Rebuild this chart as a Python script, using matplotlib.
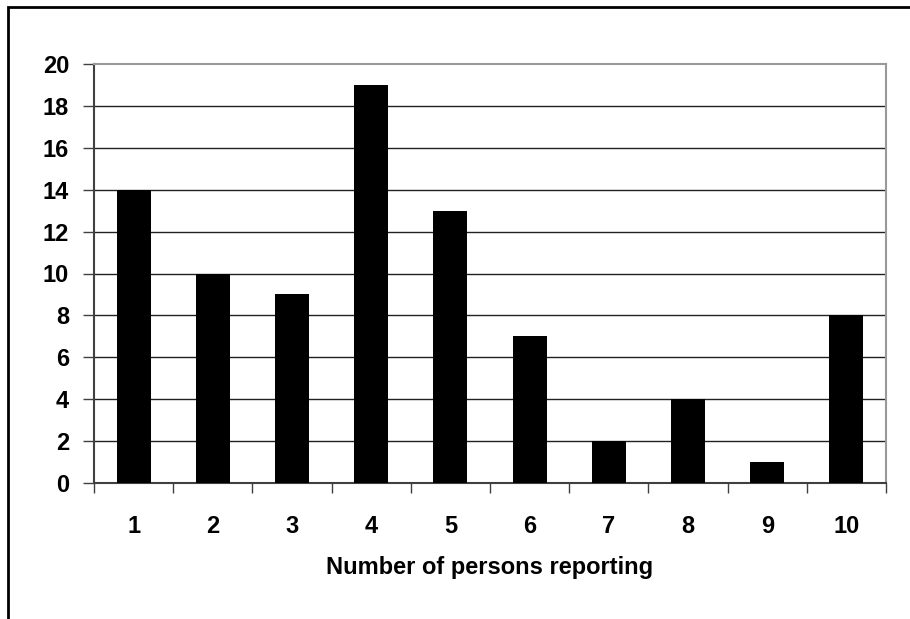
import matplotlib
matplotlib.use("Agg")
import matplotlib.pyplot as plt
from matplotlib.patches import Rectangle

categories = ["1", "2", "3", "4", "5", "6", "7", "8", "9", "10"]
counts = [14, 10, 9, 19, 13, 7, 2, 4, 1, 8]
y_ticks = [0, 2, 4, 6, 8, 10, 12, 14, 16, 18, 20]
x_title = "Number of persons reporting"

W, H = 910, 619
fig = plt.figure(figsize=(W / 100, H / 100), dpi=100)
plt.rcParams["font.family"] = ["Liberation Sans", "DejaVu Sans"]

# outer chart frame (open toward right and bottom edges)
fig.patches.append(Rectangle((8 / W, -0.1), 1.2, (H - 7) / H + 0.1,
                             transform=fig.transFigure, fill=False,
                             edgecolor="black", linewidth=2))

left, right, top, bottom = 94, 886, 64, 483
ax = fig.add_axes([left / W, (H - bottom) / H, (right - left) / W, (bottom - top) / H])

x = list(range(len(categories)))
ax.bar(x, counts, width=0.43, color="black", zorder=3)

ax.set_xlim(-0.5, len(categories) - 0.5)
ax.set_ylim(0, 20)
ax.set_yticks(y_ticks)
ax.set_yticklabels([str(v) for v in y_ticks], fontsize=17, fontweight="bold")
ax.set_xticks(x)
ax.set_xticklabels(categories, fontsize=17, fontweight="bold")
ax.tick_params(axis="x", length=0, pad=23)
ax.set_xticks([i - 0.5 for i in range(len(categories) + 1)], minor=True)
ax.tick_params(axis="x", which="minor", length=7, width=1, color="#404040", direction="out")
ax.tick_params(axis="y", length=8, width=1, color="#404040", pad=10)

for v in y_ticks[1:-1]:
    ax.axhline(v, color="#222222", linewidth=1, zorder=1)

ax.spines["left"].set_color("#404040")
ax.spines["bottom"].set_color("#404040")
ax.spines["top"].set_color("#999999")
ax.spines["right"].set_color("#999999")
for s in ax.spines.values():
    s.set_linewidth(1.5)

ax.set_xlabel(x_title, fontsize=17, fontweight="bold", labelpad=13)

fig.savefig("out.png", dpi=100)
